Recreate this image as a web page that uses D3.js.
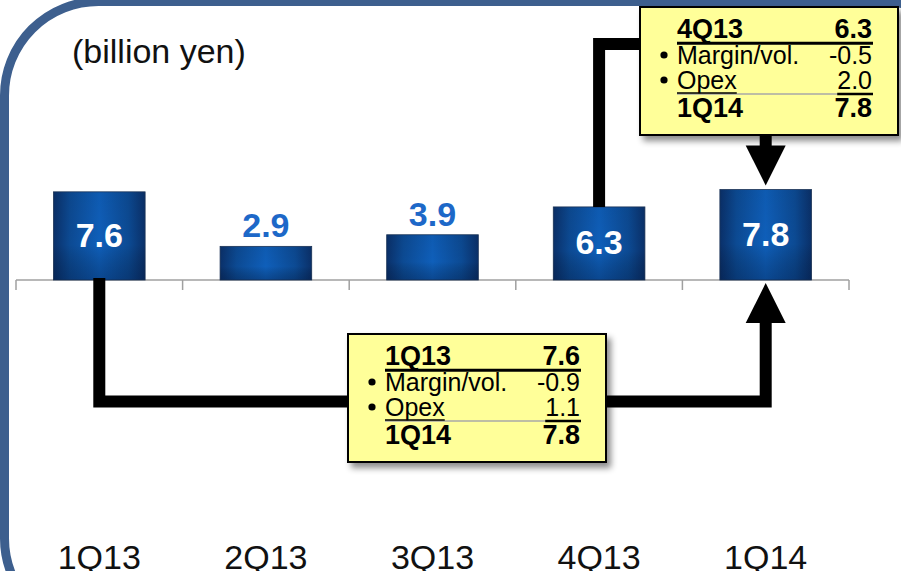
<!doctype html>
<html lang="en">
<head>
  <meta charset="UTF-8">
  <title>Quarterly bridge</title>
  <script src="https://cdn.jsdelivr.net/npm/d3@7"></script>
  <style>
    html, body { margin: 0; padding: 0; background: #fff; }
    svg { display: block; font-family: "Liberation Sans", Arial, sans-serif; }
  </style>
</head>
<body>
<div id="chart"></div>
<script>
  // chart data (billion yen)
  var categories = ["1Q13", "2Q13", "3Q13", "4Q13", "1Q14"];
  var values     = [7.6, 2.9, 3.9, 6.3, 7.8];

  // bridge boxes
  var bridgeLowLabels  = ["1Q13", "Margin/vol.", "Opex", "1Q14"];
  var bridgeLowValues  = [7.6, -0.9, 1.1, 7.8];
  var bridgeHighLabels = ["4Q13", "Margin/vol.", "Opex", "1Q14"];
  var bridgeHighValues = [6.3, -0.5, 2.0, 7.8];

  var width = 901, height = 571;

  var svg = d3.select("#chart").append("svg")
      .attr("width", width)
      .attr("height", height);

  var defs = svg.append("defs");

  // horizontal shading of the bars
  var grad = defs.append("linearGradient").attr("id", "barGrad")
      .attr("x1", "0%").attr("x2", "100%").attr("y1", "0%").attr("y2", "0%");
  [["0%", "#0a3069"], ["18%", "#0c4a93"], ["50%", "#0f5fba"], ["82%", "#0c4a93"], ["100%", "#0a3069"]]
    .forEach(function(s) { grad.append("stop").attr("offset", s[0]).attr("stop-color", s[1]); });

  var vgrad = defs.append("linearGradient").attr("id", "barShade")
      .attr("x1", "0%").attr("x2", "0%").attr("y1", "0%").attr("y2", "100%");
  vgrad.append("stop").attr("offset", "0%").attr("stop-color", "#000").attr("stop-opacity", 0.05);
  vgrad.append("stop").attr("offset", "60%").attr("stop-color", "#000").attr("stop-opacity", 0);
  vgrad.append("stop").attr("offset", "100%").attr("stop-color", "#001030").attr("stop-opacity", 0.3);

  var shadow = defs.append("filter").attr("id", "boxShadow")
      .attr("x", "-10%").attr("y", "-10%").attr("width", "130%").attr("height", "130%");
  shadow.append("feDropShadow")
      .attr("dx", 4).attr("dy", 5).attr("stdDeviation", 3)
      .attr("flood-color", "#000").attr("flood-opacity", 0.45);

  // rounded frame
  svg.append("rect")
      .attr("x", 4.5).attr("y", 1.5)
      .attr("width", 972).attr("height", 631)
      .attr("rx", 94).attr("ry", 94)
      .style("fill", "none")
      .style("stroke", "#3d5f8e")
      .style("stroke-width", 9);

  // unit label
  svg.append("text")
      .attr("x", 72).attr("y", 63)
      .style("font-size", "34px")
      .style("fill", "#111")
      .text("(billion yen)");

  // scales
  var x = d3.scaleBand()
      .domain(categories)
      .range([16, 849])
      .paddingInner(0.45)
      .paddingOuter(0.225);

  var y = d3.scaleLinear()
      .domain([0, 10])
      .range([280, 164]);

  var step = x.step();

  // baseline and tick marks between categories
  svg.append("line")
      .attr("x1", x.range()[0]).attr("x2", x.range()[1])
      .attr("y1", y(0)).attr("y2", y(0))
      .style("stroke", "#a0a0a0").style("stroke-width", 1.5);

  svg.selectAll(".tick-mark")
      .data(d3.range(categories.length + 1))
      .enter().append("line")
      .attr("class", "tick-mark")
      .attr("x1", function(i) { return x.range()[0] + i * step; })
      .attr("x2", function(i) { return x.range()[0] + i * step; })
      .attr("y1", y(0)).attr("y2", y(0) + 10)
      .style("stroke", "#a0a0a0").style("stroke-width", 1.5);

  // bars
  var bars = svg.selectAll(".bar")
      .data(values)
      .enter().append("g")
      .attr("class", "bar");

  bars.append("rect")
      .attr("x", function(d, i) { return x(categories[i]); })
      .attr("y", function(d) { return y(d); })
      .attr("width", x.bandwidth())
      .attr("height", function(d) { return y(0) - y(d); })
      .style("fill", "url(#barGrad)")
      .style("stroke", "#1d3558")
      .style("stroke-width", 0.8);

  bars.append("rect")
      .attr("x", function(d, i) { return x(categories[i]); })
      .attr("y", function(d) { return y(d); })
      .attr("width", x.bandwidth())
      .attr("height", function(d) { return y(0) - y(d); })
      .style("fill", "url(#barShade)");

  // value labels: inside tall bars, above short ones
  bars.append("text")
      .attr("x", function(d, i) { return x(categories[i]) + x.bandwidth() / 2; })
      .attr("y", function(d) {
        if (d > 5) return (y(d) + y(0)) / 2 + 11;
        return y(d) - 9;
      })
      .attr("text-anchor", "middle")
      .style("font-size", "34px")
      .style("font-weight", "bold")
      .style("fill", function(d) { return d > 5 ? "#ffffff" : "#1d68c8"; })
      .text(function(d) { return d.toFixed(1); });

  // category labels along the bottom
  svg.selectAll(".cat")
      .data(categories)
      .enter().append("text")
      .attr("class", "cat")
      .attr("x", function(d) { return x(d) + x.bandwidth() / 2; })
      .attr("y", 569)
      .attr("text-anchor", "middle")
      .style("font-size", "34px")
      .style("fill", "#111")
      .text(function(d) { return d; });

  // connectors
  var cx = function(c) { return x(c) + x.bandwidth() / 2; };
  var first = categories[0], prev = categories[3], last = categories[4];
  var lowBox  = { left: 348, top: 334, w: 258, h: 128 };
  var highBox = { left: 640, top: 7,   w: 258, h: 128 };
  var head = 40, headW = 40;

  var connectors = svg.append("g")
      .style("fill", "none")
      .style("stroke", "#000")
      .style("stroke-width", 12)
      .style("stroke-linejoin", "miter");

  var lowY = 401.5;
  connectors.append("path")
      .attr("d", "M" + cx(first) + "," + (y(0) - 2) +
                 "V" + lowY + "H" + cx(last) + "V" + (y(0) + 3 + head - 1));
  svg.append("path")
      .attr("d", "M" + (cx(last) - headW / 2) + "," + (y(0) + 3 + head) +
                 "L" + (cx(last) + headW / 2) + "," + (y(0) + 3 + head) +
                 "L" + cx(last) + "," + (y(0) + 3) + "Z")
      .style("fill", "#000");

  var highY = 44;
  connectors.append("path")
      .attr("d", "M" + cx(prev) + "," + y(values[3]) +
                 "V" + highY + "H" + (highBox.left + 5));
  var topOfBar = y(values[4]) - 4;
  connectors.append("path")
      .attr("d", "M" + cx(last) + "," + (highBox.top + highBox.h - 2) +
                 "V" + (topOfBar - head + 1));
  svg.append("path")
      .attr("d", "M" + (cx(last) - headW / 2) + "," + (topOfBar - head) +
                 "L" + (cx(last) + headW / 2) + "," + (topOfBar - head) +
                 "L" + cx(last) + "," + topOfBar + "Z")
      .style("fill", "#000");

  // bridge boxes
  function drawBox(b, labels, nums) {
    var g = svg.append("g").attr("transform", "translate(" + b.left + "," + b.top + ")");
    g.append("rect")
        .attr("width", b.w).attr("height", b.h)
        .style("fill", "#ffff99")
        .style("stroke", "#000")
        .style("stroke-width", 2)
        .attr("filter", "url(#boxShadow)");

    var tx = 37, vx = 232;
    var base = [30.5, 57, 82, 110];

    labels.forEach(function(lab, i) {
      var bold = (i === 0 || i === labels.length - 1);
      var size = bold ? "27px" : "25px";
      if (!bold) {
        g.append("circle")
            .attr("cx", 24).attr("cy", base[i] - 9)
            .attr("r", 3.6)
            .style("fill", "#000");
      }
      var lt = g.append("text").attr("x", tx).attr("y", base[i])
          .style("font-size", size)
          .style("font-weight", bold ? "bold" : "normal")
          .text(lab);
      var vt = g.append("text").attr("x", vx).attr("y", base[i])
          .attr("text-anchor", "end")
          .style("font-size", size)
          .style("font-weight", bold ? "bold" : "normal")
          .text(nums[i].toFixed(1));

      if (i === 2) {
        // separator above the total row
        g.append("line")
            .attr("x1", tx).attr("x2", vx + 1)
            .attr("y1", 87).attr("y2", 87)
            .style("stroke", "#a8a8a8").style("stroke-width", 1.5);
        var lw = lt.node().getComputedTextLength();
        g.append("line")
            .attr("x1", tx).attr("x2", tx + lw)
            .attr("y1", 86).attr("y2", 86)
            .style("stroke", "#000").style("stroke-width", 1.5);
        var vw = vt.node().getComputedTextLength();
        g.append("line")
            .attr("x1", vx - vw).attr("x2", vx + 1)
            .attr("y1", 87).attr("y2", 87)
            .style("stroke", "#000").style("stroke-width", 2.5);
      }
    });

    g.append("line")
        .attr("x1", tx).attr("x2", vx + 1)
        .attr("y1", 36.3).attr("y2", 36.3)
        .style("stroke", "#000").style("stroke-width", 3);
  }

  drawBox(lowBox, bridgeLowLabels, bridgeLowValues);
  drawBox(highBox, bridgeHighLabels, bridgeHighValues);
</script>
</body>
</html>
